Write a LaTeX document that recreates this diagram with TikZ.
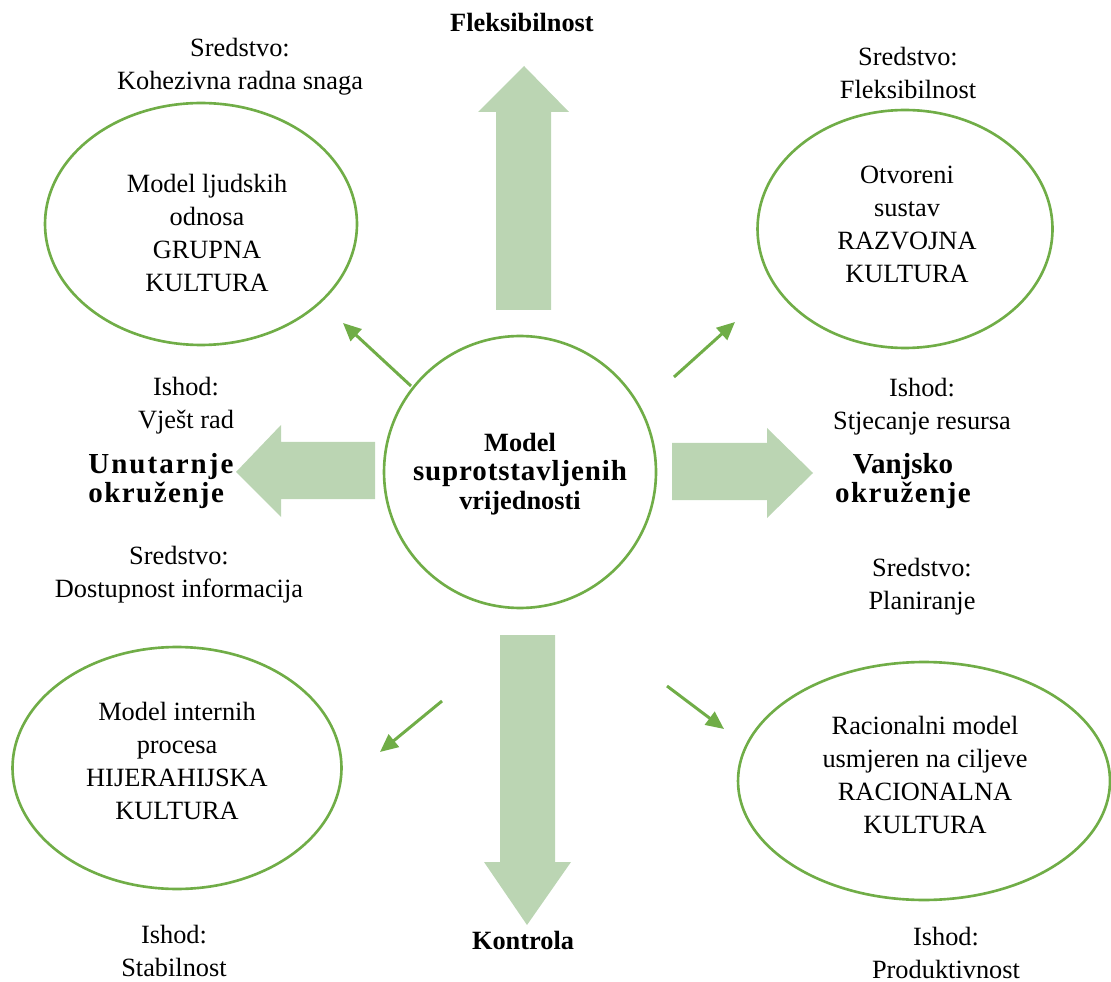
\documentclass[tikz,border=0pt]{standalone}
\usepackage{fontspec}
\setmainfont{Liberation Serif}
\usetikzlibrary{arrows.meta,shapes.geometric}

\definecolor{lineGreen}{RGB}{112,173,71}
\definecolor{arrowGreen}{RGB}{187,213,179}

\newcommand{\spread}[2]{{\addfontfeature{LetterSpace=#1}#2}}

\tikzset{
  culture/.style={ellipse, draw=lineGreen, line width=1.5pt, align=center, inner sep=0pt,
    font=\fontsize{15}{18.8}\selectfont},
  txt/.style={align=center, inner sep=0pt, font=\fontsize{15}{18.8}\selectfont},
  axis/.style={align=center, inner sep=0pt, font=\fontsize{15}{16.5}\selectfont\bfseries},
  sideaxis/.style={axis, font=\fontsize{16.5}{16}\selectfont\bfseries},
  pointer/.style={draw=lineGreen, line width=1.7pt, -{Triangle[length=3.6mm,width=3.2mm]}},
  bigarrow/.style={fill=arrowGreen}
}

\begin{document}
\begin{tikzpicture}[x=0.02cm, y=-0.02cm]
      \useasboundingbox (0,0) rectangle (1111,982);
      % big block arrows
      \fill[bigarrow] (496,310) -- (496,112) -- (478,112) -- (524,66) -- (569,112) -- (551,112) -- (551,310) -- cycle;
      \fill[bigarrow] (375,442) -- (281,442) -- (281,425) -- (236,472) -- (281,517) -- (281,499) -- (375,499) -- cycle;
      \fill[bigarrow] (672,443) -- (767,443) -- (767,428) -- (813,473) -- (767,518) -- (767,500) -- (672,500) -- cycle;
      \fill[bigarrow] (500,635) -- (500,862) -- (484,862) -- (527,925) -- (571,862) -- (555,862) -- (555,635) -- cycle;

      % centre and the four cultures
      \node[circle, draw=lineGreen, line width=1.5pt, minimum size=5.44cm, inner sep=0pt] (model) at (520,472) {};
      \node[axis] (modeltxt) at (520,474) {Model\\{\fontsize{16.5}{16.5}\selectfont\spread{3}{suprotstavljenih}}\\vrijednosti};
      \node[culture, minimum width=6.24cm, minimum height=4.84cm] (grupna) at (201,224) {};
      \node[txt] (grupnatxt) at (207,233) {Model ljudskih\\odnosa\\GRUPNA\\KULTURA};
      \node[culture, minimum width=5.9cm, minimum height=4.76cm] (razvojna) at (905,229) {};
      \node[txt] (razvojnatxt) at (907,224) {Otvoreni\\sustav\\RAZVOJNA\\KULTURA};
      \node[culture, minimum width=6.58cm, minimum height=4.84cm] (hijer) at (177,768) {};
      \node[txt] (hijertxt) at (177,761) {Model internih\\procesa\\HIJERAHIJSKA\\KULTURA};
      \node[culture, minimum width=7.44cm, minimum height=4.76cm] (racio) at (924,781) {};
      \node[txt] (raciotxt) at (925,775) {Racionalni model\\usmjeren na ciljeve\\RACIONALNA\\KULTURA};

      % axis labels
      \node[axis] (fleks) at (522,22) {Fleksibilnost};
      \node[axis] (kontrola) at (523,940) {Kontrola};
      \node[sideaxis, align=left, anchor=west] (unutar) at (88,481) {\spread{7}{Unutarnje}\\\spread{5}{okruženje}};
      \node[sideaxis] (vanjsko) at (903,481) {Vanjsko\\\spread{5}{okruženje}};

      % means and outcomes
      \node[txt] (s1) at (240,67) {Sredstvo:\\Kohezivna radna snaga};
      \node[txt] (s2) at (908,73) {Sredstvo:\\Fleksibilnost};
      \node[txt] (i1) at (186,406) {Ishod:\\Vješt rad};
      \node[txt] (i2) at (922,407) {Ishod:\\Stjecanje resursa};
      \node[txt] (s3) at (179,575) {Sredstvo:\\Dostupnost informacija};
      \node[txt] (s4) at (922,587) {Sredstvo:\\Planiranje};
      \node[txt] (i3) at (174,951) {Ishod:\\Stabilnost};
      \node[txt] (i4) at (946,953) {Ishod:\\Produktivnost};

      % small pointers
      \coordinate (tlA) at (411,386); \coordinate (tlB) at (343,323);
      \coordinate (trA) at (674,377); \coordinate (trB) at (735,322);
      \coordinate (blA) at (442,701); \coordinate (blB) at (380,752);
      \coordinate (brA) at (667,686); \coordinate (brB) at (724,729);
      \foreach \p in {tl,tr,bl,br} {
            \draw[pointer] (\p A) -- (\p B);
      }
\end{tikzpicture}
\end{document}
